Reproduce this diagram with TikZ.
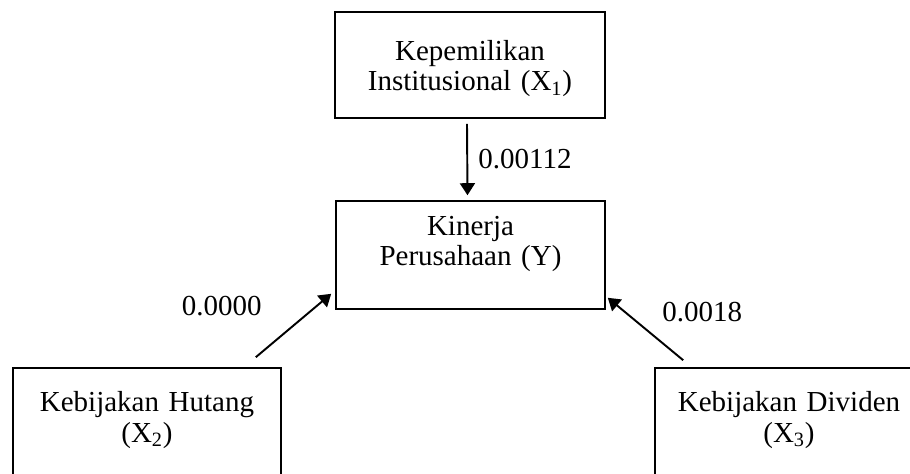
\documentclass[tikz,border=0pt]{standalone}
\usepackage{fontspec}
\setmainfont{Liberation Serif}
\usetikzlibrary{arrows.meta,calc}

\begin{document}
\begin{tikzpicture}[
    >={Triangle[length=0.24cm,width=0.3cm]},
    % Define styles
    varbox/.style={rectangle, draw=black, line width=0.9pt, inner sep=0pt, align=center, text width=5.38cm, anchor=base},
    arrow/.style={->, line width=1.1pt, black},
    coef/.style={inner sep=0pt},
    % Font
    font=\fontsize{16.5}{17.6}\selectfont
]
\clip (0,0) rectangle (18.2,-9.46);

% Variables
\node[varbox, text width=5.4cm, text height=0.96cm, text depth=1.16cm] (inst) at (9.40,-1.20) {Kepemilikan\\Institusional (X\textsubscript{1})};
\node[varbox, text height=0.68cm, text depth=1.48cm] (kinerja) at (9.41,-4.70) {Kinerja\\Perusahaan (Y)};
\node[varbox, text width=5.36cm, text height=0.87cm, text depth=1.8cm] (hutang) at (2.94,-8.23) {Kebijakan Hutang\\(X\textsubscript{2})};
\node[varbox, text width=5.36cm, text height=0.87cm, text depth=1.8cm] (dividen) at (15.78,-8.23) {Kebijakan Dividen\\(X\textsubscript{3})};

% Paths
\draw[arrow] ([xshift=-0.06cm, yshift=-0.1cm]inst.south) -- ([xshift=-0.06cm, yshift=0.1cm]kinerja.north);
\draw[arrow] ([xshift=-0.52cm, yshift=0.2cm]hutang.north east) -- ([xshift=-0.08cm, yshift=0.32cm]kinerja.south west);
\draw[arrow] ([xshift=0.58cm, yshift=0.14cm]dividen.north west) -- ([xshift=0.04cm, yshift=0.24cm]kinerja.south east);

% Coefficients
\node[coef, anchor=base west] (c1) at (9.56,-3.36) {0.00112};
\node[coef, anchor=base east] (c2) at (5.24,-6.30) {0.0000};
\node[coef, anchor=base west] (c3) at (13.24,-6.43) {0.0018};

\end{tikzpicture}
\end{document}
